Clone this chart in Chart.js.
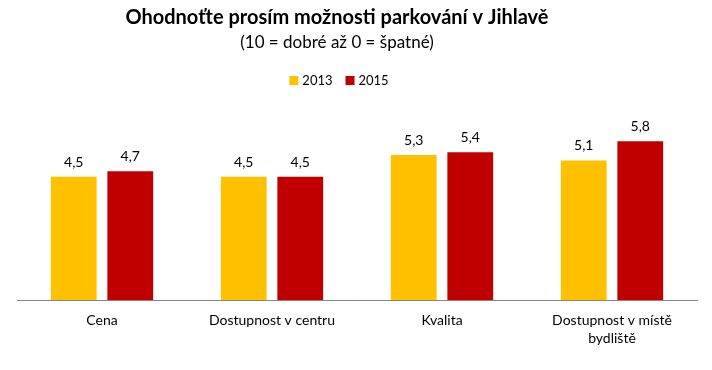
<!DOCTYPE html>
<html>
<head>
<meta charset="utf-8">
<script src="https://cdn.jsdelivr.net/npm/chart.js@4"></script>
<style>
  html, body { margin: 0; padding: 0; background: #fff; }
  #box { width: 712px; height: 370px; }
</style>
</head>
<body>
<div id="box"><canvas id="graf"></canvas></div>
<script>
const titulek = "Ohodnoťte prosím možnosti parkování v Jihlavě";
const podtitulek = "(10 = dobré až 0 = špatné)";
const kategorie = ["Cena", "Dostupnost v centru", "Kvalita", ["Dostupnost v místě", "bydliště"]];
const roky = ["2013", "2015"];
const hodnoty2013 = [4.5, 4.5, 5.3, 5.1];
const hodnoty2015 = [4.7, 4.5, 5.4, 5.8];
const barvy = ["#FFC000", "#C00000"];

const pismo = "Lato, 'Open Sans', sans-serif";

// nadpis, podnadpis a legenda (posunute doleva oproti stredu grafu)
const hlavicka = {
    id: "hlavicka",
    afterDraw(chart) {
        const ctx = chart.ctx;
        const stred = 337;
        ctx.save();
        ctx.fillStyle = "#000";
        ctx.textAlign = "center";
        ctx.textBaseline = "alphabetic";
        ctx.font = "bold 20px " + pismo;
        ctx.fillText(titulek, stred, 24);
        ctx.font = "17px " + pismo;
        ctx.fillText(podtitulek, stred, 47.5);

        ctx.font = "13px " + pismo;
        ctx.textAlign = "left";
        const sirky = chart.data.datasets.map(d => ctx.measureText(d.label).width);
        const celkem = sirky.reduce((a, b) => a + b + 13, 0) + 13 * sirky.length - 13;
        let x = 339 - celkem / 2;
        chart.data.datasets.forEach((d, i) => {
            ctx.fillStyle = d.backgroundColor;
            ctx.fillRect(x, 76, 9, 9);
            ctx.fillStyle = "#000";
            ctx.fillText(d.label, x + 13, 85);
            x += 13 + sirky[i] + 13;
        });
        ctx.restore();
    }
};

// popisky hodnot nad sloupci
const popisky = {
    id: "popisky",
    afterDatasetsDraw(chart) {
        const ctx = chart.ctx;
        ctx.save();
        ctx.fillStyle = "#000";
        ctx.font = "14px " + pismo;
        ctx.textAlign = "center";
        ctx.textBaseline = "alphabetic";
        chart.data.datasets.forEach((d, i) => {
            chart.getDatasetMeta(i).data.forEach((bar, j) => {
                ctx.fillText(d.data[j].toFixed(1).replace(".", ","), bar.x, bar.y - 10);
            });
        });
        ctx.restore();
    }
};

new Chart(document.getElementById("graf"), {
    type: "bar",
    data: {
        labels: kategorie,
        datasets: [
            { label: roky[0], data: hodnoty2013, backgroundColor: barvy[0] },
            { label: roky[1], data: hodnoty2015, backgroundColor: barvy[1] }
        ]
    },
    options: {
        responsive: true,
        maintainAspectRatio: false,
        animation: false,
        categoryPercentage: 0.665,
        barPercentage: 0.81,
        layout: { padding: { left: 17, right: 15, top: 81, bottom: 0 } },
        plugins: {
            legend: { display: false },
            title: { display: false },
            tooltip: { enabled: false }
        },
        scales: {
            x: {
                grid: { display: false, drawTicks: false },
                border: { display: true, color: "#868686", width: 1 },
                ticks: {
                    color: "#000",
                    padding: 11,
                    maxRotation: 0,
                    font: { family: pismo, size: 14, lineHeight: 1.3 }
                },
                afterFit(scale) { scale.height = 70; }
            },
            y: {
                display: false,
                min: 0,
                max: 8
            }
        }
    },
    plugins: [hlavicka, popisky]
});
</script>
</body>
</html>
